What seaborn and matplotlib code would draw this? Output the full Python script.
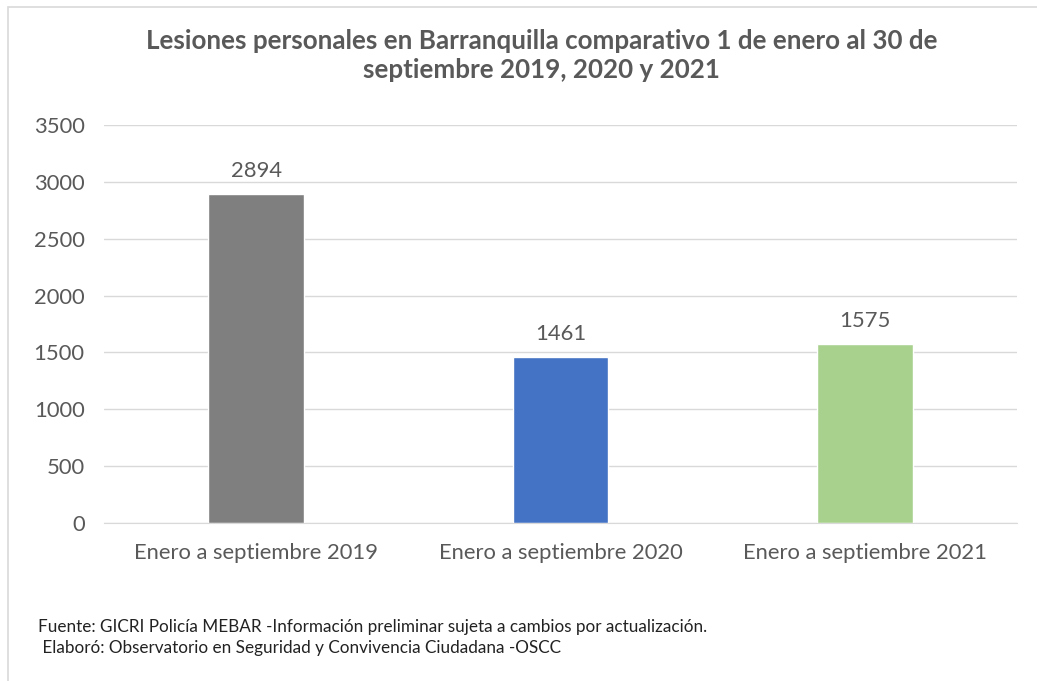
import matplotlib
matplotlib.use("Agg")
import matplotlib.pyplot as plt
import seaborn as sns
import pandas as pd

# datos del grafico
periodos = ["Enero a septiembre 2019", "Enero a septiembre 2020", "Enero a septiembre 2021"]
lesiones = [2894, 1461, 1575]
colores = ["#7F7F7F", "#4472C4", "#A9D18E"]

titulo = "Lesiones personales en Barranquilla comparativo 1 de enero al 30 de\nseptiembre 2019, 2020 y 2021"
fuente = "Fuente: GICRI Policía MEBAR -Información preliminar sujeta a cambios por actualización."
elaboro = " Elaboró: Observatorio en Seguridad y Convivencia Ciudadana -OSCC"

sns.set_style("white")
plt.rcParams["font.family"] = ["Lato", "DejaVu Sans"]
gris = "#595959"

df = pd.DataFrame({"periodo": periodos, "lesiones": lesiones})

fig = plt.figure(figsize=(10.37, 6.81), dpi=100)
ax = fig.add_axes([0.1003, 0.232, 0.8804, 0.5844])

sns.barplot(data=df, x="periodo", y="lesiones", hue="periodo", palette=colores,
            width=0.315, legend=False, ax=ax, saturation=1)

ax.set_ylim(0, 3500)
ax.set_xlim(-0.5, 2.5)
ax.set_yticks(range(0, 3501, 500))
ax.yaxis.grid(True, color="#D9D9D9", linewidth=1)
ax.set_axisbelow(True)
for s in ["top", "right", "left"]:
    ax.spines[s].set_visible(False)
ax.spines["bottom"].set_color("#D9D9D9")
ax.tick_params(axis="both", length=0, colors=gris, labelsize=15.8)
ax.tick_params(axis="x", pad=14.5)
ax.tick_params(axis="y", pad=14)
ax.set_xlabel("")
ax.set_ylabel("")

for cont in ax.containers:
    ax.bar_label(cont, padding=9, fontsize=15.8, color=gris)

fig.text(0.522, 0.919, titulo, ha="center", va="center", fontsize=18.7,
         fontweight="bold", color=gris, linespacing=1.25)
fig.text(0.037, 0.080, fuente, ha="left", va="center", fontsize=12.3, color="#222222")
fig.text(0.037, 0.049, elaboro, ha="left", va="center", fontsize=12.3, color="#222222")

# marco del grafico
fig.patches.append(plt.Rectangle((8 / 1037, -0.1), 1.2, 1.1 - 7 / 681, transform=fig.transFigure,
                                 fill=False, edgecolor="#D9D9D9", linewidth=1.2))

fig.savefig("out.png", dpi=100)
